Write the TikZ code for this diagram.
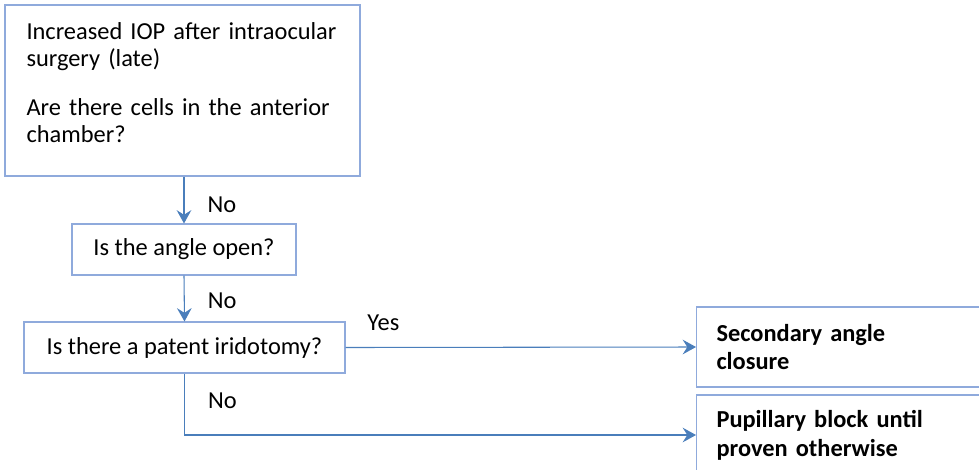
\documentclass[tikz,border=0pt]{standalone}
\usepackage{fontspec}
\setmainfont{Carlito}
\usetikzlibrary{arrows.meta}
\definecolor{boxblue}{HTML}{8FAADC}
\definecolor{arrblue}{HTML}{4A7EBB}
\begin{document}
\begin{tikzpicture}[x=0.75pt,y=-0.75pt,
  font=\fontsize{18.3}{20.25}\selectfont,
  box/.style={draw=boxblue,line width=0.8pt,inner ysep=0pt,minimum height=38.25pt},
  result/.style={box,anchor=west,minimum width=240pt,minimum height=60pt,text width=210pt,
    inner xsep=14pt,align=left,font=\fontsize{18.3}{21.5}\selectfont\bfseries},
  arr/.style={draw=arrblue,line width=0.8pt,-{Stealth[length=10pt,width=11pt,inset=3.5pt]}}]
\useasboundingbox (0,0) rectangle (979,469);
\clip (0,0) rectangle (979,469);
\node[box,minimum width=266.25pt,minimum height=128.25pt,text width=234pt,
  inner xsep=15.75pt,align=left] (cells) at (182.5,90.5)
  {Increased IOP after intraocular\\surgery (late)\\[17pt]Are there cells in the anterior\\chamber?\rule[-12pt]{0pt}{0pt}};
\node[box,minimum width=168pt] (angle) at (184,249.5) {Is the angle open?};
\node[box,minimum width=240.75pt] (patent) at (184.5,347.5) {Is there a patent iridotomy?};
\node[result] (closure) at (696,347) {Secondary angle\\closure};
\node[result] (block) at (696,435) {Pupillary block until\\proven otherwise};
\draw[arr] (angle.north |- cells.south) -- node[pos=0.6,right=14pt] {No} (angle.north);
\draw[arr] (angle.south) -- node[pos=0.55,right=14pt] {No} (patent.north);
\draw[arr] (patent.east) -- node[pos=0.108,above=9pt] {Yes} (closure.west);
\draw[arr] (patent.south) |- node[pos=0.22,right=14pt] {No} (block.west);
\end{tikzpicture}
\end{document}
